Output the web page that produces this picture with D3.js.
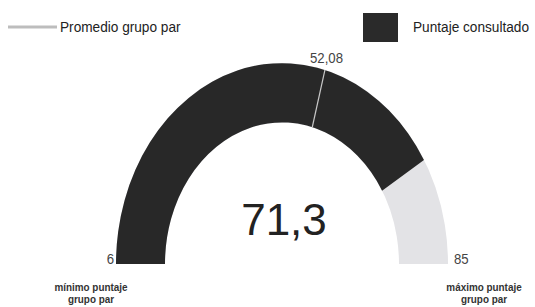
<!DOCTYPE html>
<html>
<head>
<meta charset="utf-8">
<script src="https://cdn.jsdelivr.net/npm/d3@7"></script>
<style>
  body { margin: 0; background: #fff; }
  svg text { font-family: "Liberation Sans", Arial, sans-serif; }
</style>
</head>
<body>
<div id="chart"></div>
<script>
// gauge values
var rangeValues = [6, 85];          // minimo / maximo puntaje grupo par
var scoreValue = [71.3];            // puntaje consultado
var averageValue = [52.08];         // promedio grupo par
var rangeLabels = ["mínimo puntaje\ngrupo par", "máximo puntaje\ngrupo par"];
var legendLabels = ["Promedio grupo par", "Puntaje consultado"];

var fmt = function(v){ return String(v).replace(".", ","); };

var width = 535, height = 307;
var cx = 282, cy = 264, rOuter = 166, rInner = 117, squash = 1.21;

var svg = d3.select("#chart").append("svg")
    .attr("width", width)
    .attr("height", height);

// narrow-looking text: squeeze horizontally
function label(x, y, str, size, anchor, sx, fill, weight){
    var t = svg.append("g")
        .attr("transform", "translate(" + x + "," + y + ") scale(" + sx + ",1)")
        .append("text")
        .attr("text-anchor", anchor)
        .attr("font-size", size)
        .attr("fill", fill)
        .attr("font-weight", weight || "normal");
    str.split("\n").forEach(function(line, i){
        t.append("tspan").attr("x", 0).attr("y", i * 12.5).text(line);
    });
    return t;
}

var angle = d3.scaleLinear()
    .domain(rangeValues)
    .range([-Math.PI / 2, Math.PI / 2]);

var arc = d3.arc()
    .innerRadius(rInner)
    .outerRadius(rOuter);

var g = svg.append("g")
    .attr("transform", "translate(" + cx + "," + cy + ") scale(1," + squash + ")");

// background (full range)
g.append("path")
    .attr("d", arc({startAngle: angle(rangeValues[0]), endAngle: angle(rangeValues[1])}))
    .attr("fill", "#e3e3e6");

// consulted score
g.append("path")
    .attr("d", arc({startAngle: angle(rangeValues[0]), endAngle: angle(scoreValue[0])}))
    .attr("fill", "#282828");

// average marker
var a = angle(averageValue[0]);
g.append("line")
    .attr("x1", rInner * Math.sin(a)).attr("y1", -rInner * Math.cos(a))
    .attr("x2", rOuter * Math.sin(a)).attr("y2", -rOuter * Math.cos(a))
    .attr("stroke", "#c8c8c8")
    .attr("stroke-width", 1.2)
    .attr("vector-effect", "non-scaling-stroke");

// average label
label(cx + (rOuter + 6) * Math.sin(a), cy - (rOuter + 6) * Math.cos(a) * squash,
    fmt(averageValue[0]), 15, "middle", 0.88, "#444");

// big centre value
svg.append("text")
    .attr("x", cx + 2)
    .attr("y", 235)
    .attr("text-anchor", "middle")
    .attr("font-size", 44)
    .attr("fill", "#222")
    .text(fmt(scoreValue[0]));

// min / max numbers
label(cx - rOuter - 2, cy, String(rangeValues[0]), 15, "end", 0.88, "#444");
label(cx + rOuter + 6, cy, String(rangeValues[1]), 15, "start", 0.88, "#444");

// min / max captions
label(91, 291, rangeLabels[0], 11, "middle", 0.9, "#333", "bold");
label(484, 291, rangeLabels[1], 11, "middle", 0.9, "#333", "bold");

// legend
svg.append("line")
    .attr("x1", 8).attr("x2", 57).attr("y1", 27).attr("y2", 27)
    .attr("stroke", "#bdbdbd").attr("stroke-width", 3);
label(60, 32, legendLabels[0], 15, "start", 0.91, "#222");
svg.append("rect")
    .attr("x", 363).attr("y", 13).attr("width", 35).attr("height", 29)
    .attr("fill", "#2a2a2a");
label(413, 32, legendLabels[1], 15, "start", 0.91, "#222");
</script>
</body>
</html>
